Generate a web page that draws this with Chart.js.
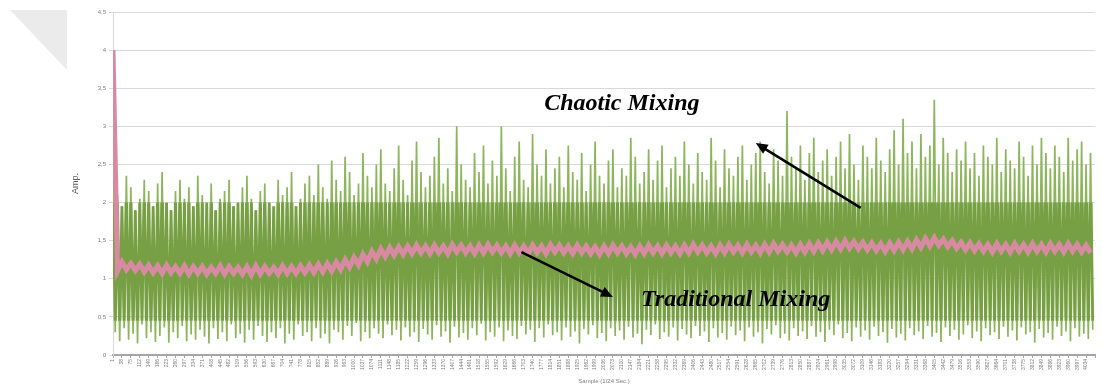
<!DOCTYPE html>
<html>
<head>
<meta charset="utf-8">
<script src="https://cdn.jsdelivr.net/npm/chart.js@4"></script>
<style>
  html, body { margin: 0; padding: 0; background: #fff; }
  #wrap { position: relative; width: 1102px; height: 385px; }
  #corner {
    position: absolute; left: 10px; top: 10px; width: 57px; height: 60px;
    background: #ebebeb; clip-path: polygon(0 0, 100% 0, 100% 100%);
  }
  canvas { position: absolute; left: 0; top: 0; }
</style>
</head>
<body>
<div id="wrap">
  <div id="corner"></div>
  <canvas id="amp-chart" width="1102" height="385"></canvas>
</div>
<script>
// sample numbers printed under the x axis (one every 4 plotted points)
var sampleStart = 1;
var sampleStep = 37;

// chaotic mixing: peaks and troughs of the signal, left to right
var chaoticHigh = [
  2.40, 2.10, 1.95, 2.35, 2.20, 1.90, 2.05, 2.30, 2.15, 1.95,
  2.25, 2.40, 2.00, 1.90, 2.15, 2.30, 2.05, 2.20, 1.95, 2.35,
  2.10, 2.00, 2.25, 1.90, 2.05, 2.15, 2.30, 1.95, 2.00, 2.20,
  2.35, 2.05, 1.90, 2.15, 2.25, 2.00, 1.95, 2.30, 2.10, 2.20,
  2.40, 1.95, 2.05, 2.25, 2.35, 2.10, 2.50, 2.20, 2.05, 2.55,
  2.30, 2.15, 2.60, 2.40, 2.10, 2.25, 2.65, 2.35, 2.20, 2.50,
  2.70, 2.25, 2.15, 2.45, 2.75, 2.30, 2.10, 2.55, 2.80, 2.40,
  2.20, 2.35, 2.60, 2.85, 2.25, 2.45, 2.15, 3.00, 2.50, 2.30,
  2.20, 2.65, 2.40, 2.75, 2.25, 2.55, 2.35, 3.00, 2.45, 2.15,
  2.60, 2.80, 2.30, 2.20, 2.90, 2.50, 2.35, 2.70, 2.25, 2.45,
  2.60, 2.20, 2.75, 2.40, 2.30, 2.65, 2.15, 2.50, 2.80, 2.35,
  2.25, 2.55, 2.70, 2.20, 2.45, 2.35, 2.85, 2.60, 2.25, 2.40,
  2.70, 2.30, 2.55, 2.75, 2.20, 2.45, 2.60, 2.35, 2.80, 2.50,
  2.25, 2.65, 2.40, 2.30, 2.85, 2.55, 2.20, 2.70, 2.45, 2.35,
  2.60, 2.75, 2.30, 2.50, 2.65, 2.80, 2.40, 2.25, 2.70, 2.55,
  2.35, 3.20, 2.60, 2.45, 2.75, 2.30, 2.65, 2.85, 2.40, 2.55,
  2.70, 2.35, 2.60, 2.80, 2.45, 2.90, 2.50, 2.30, 2.75, 2.60,
  2.45, 2.85, 2.55, 2.40, 2.70, 2.95, 2.50, 3.10, 2.65, 2.80,
  2.45, 2.90, 2.60, 2.75, 3.35, 2.50, 2.85, 2.65, 2.40, 2.70,
  2.55, 2.80, 2.45, 2.65, 2.35, 2.75, 2.60, 2.50, 2.85, 2.40,
  2.70, 2.55, 2.45, 2.80, 2.60, 2.35, 2.75, 2.50, 2.85, 2.65,
  2.45, 2.75, 2.60, 2.40, 2.85, 2.55, 2.70, 2.80, 2.50, 2.65
];
var chaoticLow = [
  0.30, 0.18, 0.35, 0.20, 0.28, 0.15, 0.40, 0.22, 0.30, 0.17,
  0.25, 0.36, 0.16, 0.30, 0.22, 0.38, 0.18, 0.27, 0.20, 0.33,
  0.24, 0.15, 0.35, 0.21, 0.30, 0.18, 0.40, 0.22, 0.28, 0.16,
  0.33, 0.20, 0.38, 0.25, 0.17, 0.30, 0.22, 0.35, 0.15, 0.28,
  0.20, 0.40, 0.25, 0.30, 0.18, 0.35, 0.22, 0.28, 0.15, 0.33,
  0.30, 0.20, 0.38, 0.25, 0.42, 0.18, 0.30, 0.22, 0.35, 0.28,
  0.22, 0.40, 0.26, 0.33, 0.19, 0.36, 0.24, 0.30, 0.17, 0.34,
  0.27, 0.20, 0.39, 0.24, 0.31, 0.16, 0.37, 0.23, 0.29, 0.20,
  0.35, 0.26, 0.41, 0.19, 0.30, 0.24, 0.36, 0.18, 0.32, 0.25,
  0.21, 0.38, 0.27, 0.33, 0.17, 0.35, 0.23, 0.40, 0.26, 0.30,
  0.19, 0.36, 0.24, 0.31, 0.15, 0.34, 0.27, 0.39, 0.22, 0.29,
  0.18, 0.35, 0.25, 0.32, 0.20, 0.37, 0.23, 0.28, 0.14, 0.33,
  0.26, 0.40, 0.21, 0.30, 0.24, 0.36, 0.19, 0.34, 0.27, 0.22,
  0.38, 0.25, 0.31, 0.17, 0.35, 0.23, 0.29, 0.20, 0.37, 0.26,
  0.32, 0.18, 0.36, 0.24, 0.30, 0.15, 0.34, 0.27, 0.39, 0.22,
  0.28, 0.19, 0.35, 0.25, 0.31, 0.21, 0.38, 0.24, 0.30, 0.17,
  0.33, 0.26, 0.40, 0.22, 0.29, 0.18, 0.36, 0.24, 0.32, 0.20,
  0.37, 0.25, 0.30, 0.16, 0.34, 0.23, 0.28, 0.19, 0.35, 0.26,
  0.31, 0.21, 0.38, 0.24, 0.29, 0.17, 0.36, 0.25, 0.33, 0.20,
  0.27, 0.39, 0.22, 0.31, 0.18, 0.35, 0.26, 0.30, 0.21, 0.37,
  0.24, 0.32, 0.19, 0.36, 0.27, 0.30, 0.16, 0.34, 0.23, 0.29,
  0.20, 0.37, 0.25, 0.31, 0.18, 0.35, 0.24, 0.28, 0.21, 0.33
];

// traditional mixing: upper and lower edge of the pink band
var traditionalTop = [
  4.00, 1.22, 1.20, 1.19, 1.18, 1.17, 1.18, 1.16, 1.17, 1.16,
  1.16, 1.15, 1.17, 1.16, 1.15, 1.16, 1.17, 1.16, 1.15, 1.17,
  1.16, 1.17, 1.18, 1.19, 1.20, 1.22, 1.25, 1.28, 1.32, 1.36,
  1.39, 1.41, 1.42, 1.43, 1.44, 1.43, 1.44, 1.43, 1.45, 1.44,
  1.43, 1.44, 1.45, 1.44, 1.43, 1.44, 1.43, 1.44, 1.43, 1.45,
  1.44, 1.43, 1.44, 1.43, 1.42, 1.43, 1.44, 1.43, 1.42, 1.43,
  1.44, 1.43, 1.44, 1.43, 1.44, 1.45, 1.44, 1.43, 1.44, 1.45,
  1.44, 1.45, 1.44, 1.45, 1.46, 1.45, 1.44, 1.45, 1.46, 1.47,
  1.48, 1.49, 1.50, 1.49, 1.48, 1.47, 1.46, 1.47, 1.48, 1.49,
  1.51, 1.53, 1.54, 1.52, 1.50, 1.48, 1.47, 1.46, 1.45, 1.46,
  1.45, 1.46, 1.45, 1.46, 1.45, 1.46, 1.45, 1.46, 1.45, 1.44
];
var traditionalBottom = [
  1.10, 1.12, 1.11, 1.09, 1.08, 1.07, 1.08, 1.07, 1.06, 1.07,
  1.06, 1.07, 1.06, 1.07, 1.06, 1.05, 1.06, 1.07, 1.06, 1.07,
  1.07, 1.08, 1.08, 1.09, 1.10, 1.12, 1.15, 1.18, 1.22, 1.26,
  1.29, 1.31, 1.32, 1.33, 1.34, 1.33, 1.34, 1.33, 1.35, 1.34,
  1.33, 1.34, 1.35, 1.34, 1.33, 1.34, 1.33, 1.34, 1.33, 1.35,
  1.34, 1.33, 1.34, 1.33, 1.32, 1.33, 1.34, 1.33, 1.32, 1.33,
  1.34, 1.33, 1.34, 1.33, 1.34, 1.35, 1.34, 1.33, 1.34, 1.35,
  1.34, 1.35, 1.34, 1.35, 1.36, 1.35, 1.34, 1.35, 1.36, 1.37,
  1.38, 1.39, 1.40, 1.39, 1.38, 1.37, 1.36, 1.37, 1.38, 1.39,
  1.41, 1.43, 1.44, 1.42, 1.40, 1.38, 1.37, 1.36, 1.35, 1.36,
  1.35, 1.36, 1.35, 1.36, 1.35, 1.36, 1.35, 1.36, 1.35, 1.34
];

// the dense dark part of the chaotic signal (amplitude range)
var coreTop = 2.0;
var coreBottom = 0.45;

// the two callouts, in data units (x = plotted point index, y = amplitude)
var callouts = [
  { text: "Chaotic Mixing", x: 228, y: 3.30, fromX: 335, fromY: 1.93, toX: 288, toY: 2.78 },
  { text: "Traditional Mixing", x: 279, y: 0.72, fromX: 183, fromY: 1.35, toX: 224, toY: 0.76 }
];

// signal goes peak, trough, peak, trough...
var chaoticPoints = [];
for (var i = 0; i < chaoticHigh.length; i++) {
  chaoticPoints.push({ x: 2 * i, y: chaoticHigh[i] });
  chaoticPoints.push({ x: 2 * i + 1, y: chaoticLow[i] });
}
var traditionalPoints = [];
for (var j = 0; j < traditionalTop.length; j++) {
  traditionalPoints.push({ x: 4 * j, y: traditionalTop[j] });
  traditionalPoints.push({ x: 4 * j + 2, y: traditionalBottom[j] });
}

// second pass of the chaotic signal, only inside the dense band
var corePlugin = {
  id: 'coreBand',
  beforeDatasetDraw: function(chart, args) {
    if (args.index !== 2) return;
    var a = chart.chartArea, ys = chart.scales.y;
    var top = ys.getPixelForValue(coreTop), bottom = ys.getPixelForValue(coreBottom);
    chart.ctx.save();
    chart.ctx.beginPath();
    chart.ctx.rect(a.left, top, a.right - a.left, bottom - top);
    chart.ctx.clip();
  },
  afterDatasetDraw: function(chart, args) {
    if (args.index !== 2) return;
    chart.ctx.restore();
  }
};

var calloutPlugin = {
  id: 'callouts',
  afterDatasetsDraw: function(chart) {
    var ctx = chart.ctx;
    var xs = chart.scales.x, ys = chart.scales.y;
    ctx.save();
    callouts.forEach(function(c) {
      var x1 = xs.getPixelForValue(c.fromX), y1 = ys.getPixelForValue(c.fromY);
      var x2 = xs.getPixelForValue(c.toX), y2 = ys.getPixelForValue(c.toY);
      var a = Math.atan2(y2 - y1, x2 - x1);
      var head = 13;
      ctx.strokeStyle = '#000';
      ctx.fillStyle = '#000';
      ctx.lineWidth = 2.5;
      ctx.beginPath();
      ctx.moveTo(x1, y1);
      ctx.lineTo(x2 - Math.cos(a) * head * 0.8, y2 - Math.sin(a) * head * 0.8);
      ctx.stroke();
      ctx.beginPath();
      ctx.moveTo(x2, y2);
      ctx.lineTo(x2 - head * Math.cos(a - 0.42), y2 - head * Math.sin(a - 0.42));
      ctx.lineTo(x2 - head * Math.cos(a + 0.42), y2 - head * Math.sin(a + 0.42));
      ctx.closePath();
      ctx.fill();

      ctx.font = 'italic bold 24px "Liberation Serif", "Times New Roman", serif';
      ctx.textAlign = 'center';
      ctx.textBaseline = 'middle';
      ctx.fillText(c.text, xs.getPixelForValue(c.x), ys.getPixelForValue(c.y));
    });
    ctx.restore();
  }
};

new Chart(document.getElementById("amp-chart"), {
  type: 'line',
  data: {
    datasets: [
      {
        label: "Traditional Mixing",
        data: traditionalPoints,
        borderColor: "#d98aa3",
        borderWidth: 5,
        pointRadius: 0,
        tension: 0,
        order: 0
      },
      {
        label: "Chaotic Mixing",
        data: chaoticPoints,
        borderColor: "#8db65c",
        borderWidth: 1.7,
        pointRadius: 0,
        tension: 0,
        order: 2
      },
      {
        label: "Chaotic Mixing (dense)",
        data: chaoticPoints,
        borderColor: "#77a044",
        borderWidth: 2.8,
        pointRadius: 0,
        tension: 0,
        order: 1
      }
    ]
  },
  options: {
    responsive: false,
    animation: false,
    layout: { padding: { left: 70, right: 5, top: 12, bottom: 0 } },
    plugins: {
      legend: { display: false },
      tooltip: { enabled: false }
    },
    scales: {
      x: {
        type: 'linear',
        min: 0,
        max: 440,
        grid: { drawOnChartArea: false, tickLength: 3, color: '#a6a6a6' },
        border: { color: '#a6a6a6', width: 2 },
        ticks: {
          stepSize: 4,
          autoSkip: false,
          maxRotation: 90,
          minRotation: 90,
          padding: 1,
          color: '#7f7f7f',
          font: { size: 5, family: 'Arial, "Liberation Sans", sans-serif' },
          callback: function(value) {
            if (value % 4 !== 0 || value >= 440) return '';
            return String(sampleStart + (value / 4) * sampleStep);
          }
        },
        title: {
          display: true,
          text: 'Sample (1/24 Sec.)',
          color: '#7f7f7f',
          padding: 0,
          font: { size: 6, family: 'Arial, "Liberation Sans", sans-serif' }
        },
        afterFit: function(scale) { scale.height = 30; }
      },
      y: {
        min: 0,
        max: 4.5,
        grid: { color: '#d9d9d9', tickLength: 4 },
        border: { color: '#d9d9d9' },
        ticks: {
          stepSize: 0.5,
          color: '#7f7f7f',
          padding: 3,
          font: { size: 6, family: 'Arial, "Liberation Sans", sans-serif' },
          callback: function(value) { return String(value).replace('.', ','); }
        },
        title: {
          display: true,
          text: 'Amp.',
          color: '#595959',
          padding: 0,
          font: { size: 9, family: 'Arial, "Liberation Sans", sans-serif' }
        },
        afterFit: function(scale) { scale.width = 43; }
      }
    }
  },
  plugins: [corePlugin, calloutPlugin]
});
</script>
</body>
</html>
